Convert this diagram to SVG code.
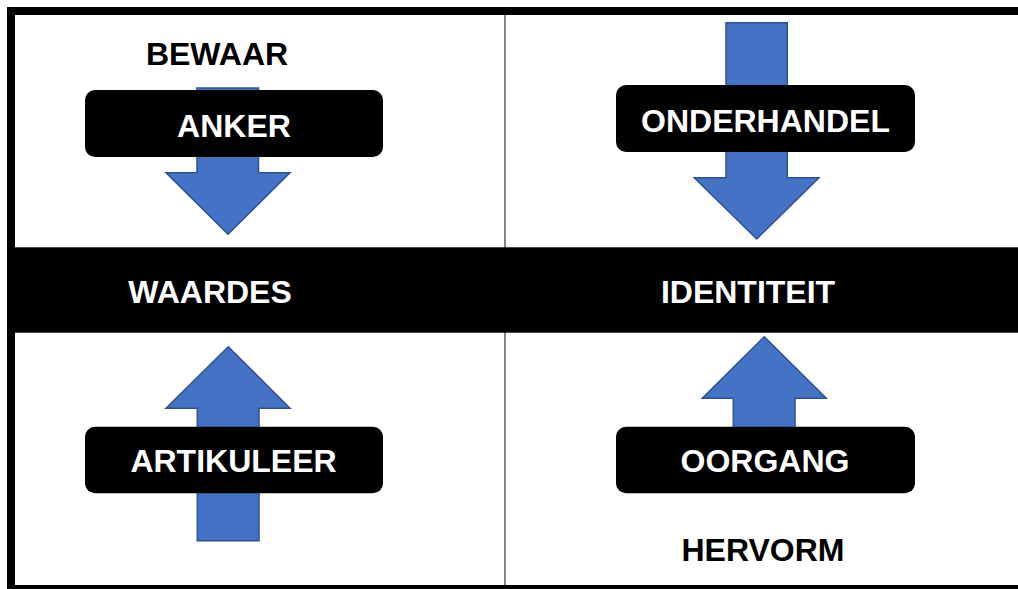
<svg xmlns="http://www.w3.org/2000/svg" width="1018" height="589" viewBox="0 0 1018 589">
<style>
.t{font-family:"Liberation Sans",Arial,sans-serif;font-weight:bold;font-size:32px;text-anchor:middle}
.w{fill:#ffffff}
.k{fill:#000000}
.box{fill:#000000}
.arr{fill:#4472C4;stroke:#2F528F;stroke-width:1.5;stroke-linejoin:miter}
</style>
<rect x="0" y="0" width="1018" height="589" fill="#ffffff"/>
<g id="frame">
<rect x="11" y="11" width="1020" height="578" fill="none" stroke="#000" stroke-width="8"/>
<line x1="505" y1="15" x2="505" y2="585" stroke="#444" stroke-width="1.3"/>
</g>
<g id="band">
<rect x="11" y="247.3" width="1010" height="85.4" fill="#000"/>
<text class="t w" x="210" y="302.7">WAARDES</text>
<text class="t w" x="748" y="302.7">IDENTITEIT</text>
</g>
<g id="connectors">
<polygon class="arr" points="197,88 258.5,88 258.5,172.7 290,172.7 228,234.3 166,172.7 197,172.7"/>
<polygon class="arr" points="726,22.7 787.3,22.7 787.3,177.7 819,177.7 756.7,239 694.3,177.7 726,177.7"/>
<polygon class="arr" points="228.3,346.7 290,408.3 259,408.3 259,540.7 197.3,540.7 197.3,408.3 166,408.3"/>
<polygon class="arr" points="764.3,336.7 826.3,398.3 795,398.3 795,430 733.3,430 733.3,398.3 702.3,398.3"/>
</g>
<g id="bewaar">
<text class="t k" x="217" y="65">BEWAAR</text>
</g>
<g id="anker">
<rect class="box" x="85" y="90" width="298" height="67" rx="10"/>
<text class="t w" x="234" y="137">ANKER</text>
</g>
<g id="onderhandel">
<rect class="box" x="616" y="85" width="299" height="67" rx="10"/>
<text class="t w" x="765.5" y="131.7">ONDERHANDEL</text>
</g>
<g id="artikuleer">
<rect class="box" x="85" y="426.7" width="298" height="66.6" rx="10"/>
<text class="t w" x="233.5" y="471.7">ARTIKULEER</text>
</g>
<g id="oorgang">
<rect class="box" x="616" y="426.7" width="299" height="66.6" rx="10"/>
<text class="t w" x="765" y="471.7">OORGANG</text>
</g>
<g id="hervorm">
<text class="t k" x="763" y="561">HERVORM</text>
</g>
</svg>
